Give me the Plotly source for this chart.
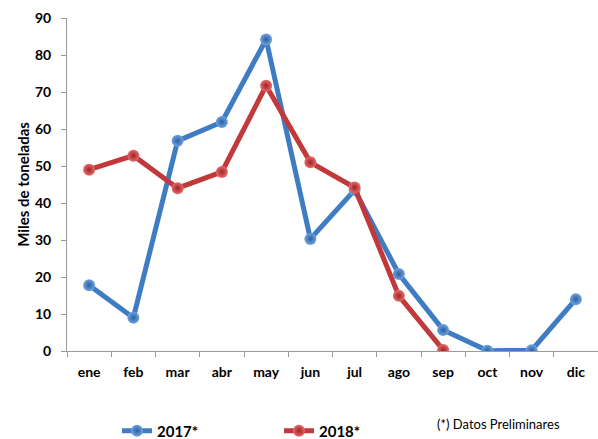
import plotly.graph_objects as go

months = ["ene", "feb", "mar", "abr", "may", "jun", "jul", "ago", "sep", "oct", "nov", "dic"]
v2017 = [17.8, 9.0, 56.8, 61.9, 84.2, 30.3, 43.5, 20.8, 5.7, 0.1, 0.2, 14.0]
months_2018 = ["ene", "feb", "mar", "abr", "may", "jun", "jul", "ago", "sep"]
v2018 = [49.0, 52.8, 44.0, 48.4, 71.7, 51.0, 44.2, 14.9, 0.3]

FONT = "Lato"
blue = "#3f7cc4"
red = "#c2393b"

fig = go.Figure()
fig.add_trace(go.Scatter(
    x=months, y=v2017, name="2017*", mode="lines+markers",
    line=dict(color=blue, width=5),
    marker=dict(size=12, color="#6fa4e0", line=dict(width=0),
                gradient=dict(type="radial", color="#2c5f9e")),
))
fig.add_trace(go.Scatter(
    x=months_2018, y=v2018, name="2018*", mode="lines+markers",
    line=dict(color=red, width=5),
    marker=dict(size=12, color="#e86a6a", line=dict(width=0),
                gradient=dict(type="radial", color="#9e2426")),
))

fig.update_layout(
    width=598, height=439,
    margin=dict(l=67, r=0, t=18, b=88),
    paper_bgcolor="white", plot_bgcolor="white",
    font=dict(family=FONT, size=14, color="black"),
    showlegend=True,
    legend=dict(orientation="h", x=(117 - 67) / 531, xref="paper",
                y=1 - 431 / 439, yref="container",
                xanchor="left", yanchor="middle",
                entrywidth=117, entrywidthmode="pixels",
                font=dict(family=FONT, size=15, color="black", weight="bold"),
                itemwidth=30),
    xaxis=dict(
        type="category", categoryorder="array", categoryarray=months,
        range=[-0.5, 11.5], tickson="boundaries", automargin=False,
        showline=True, linecolor="#9a9a9a", linewidth=1,
        ticks="outside", ticklen=5, tickcolor="#9a9a9a",
        ticklabelstandoff=8,
        showgrid=False, zeroline=False,
        tickfont=dict(family=FONT, size=14, color="black", weight="bold"),
    ),
    yaxis=dict(
        range=[0, 90], tickvals=[0, 10, 20, 30, 40, 50, 60, 70, 80, 90],
        automargin=False,
        showline=True, linecolor="#9a9a9a", linewidth=1,
        ticks="outside", ticklen=5, tickcolor="#9a9a9a",
        ticklabelstandoff=7,
        showgrid=False, zeroline=False,
        tickfont=dict(family=FONT, size=14, color="black", weight="bold"),
        title=dict(text="Miles de toneladas", standoff=1,
                   font=dict(family=FONT, size=15, color="black", weight="bold")),
    ),
    annotations=[dict(
        text="(*) Datos Preliminares", xref="paper", yref="paper",
        x=(498 - 67) / 531, y=(351 - 424) / 333, xanchor="center", yanchor="middle",
        showarrow=False, font=dict(family=FONT, size=13, color="black"),
    )],
)

fig.write_html("out.html", config={"displayModeBar": False},
               post_script="document.body.style.margin='0';document.body.style.overflow='hidden';")
